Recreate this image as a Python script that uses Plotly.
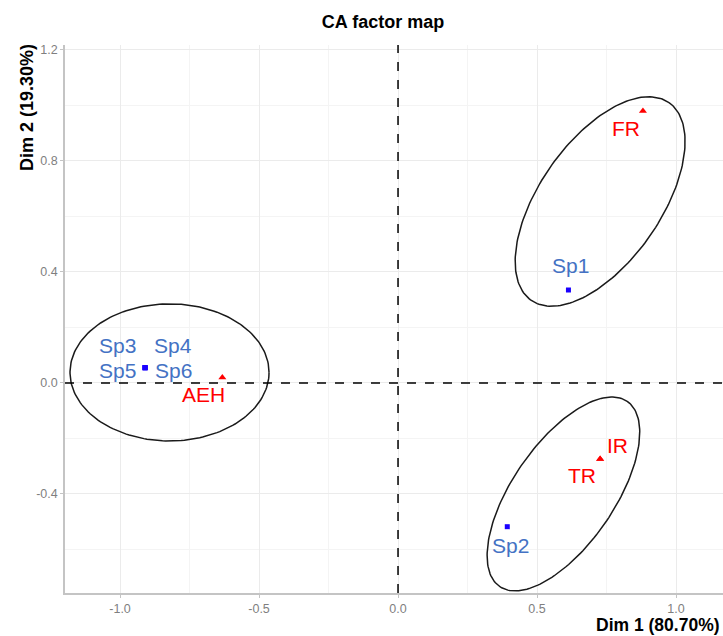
import numpy as np
import plotly.graph_objects as go

# ---------------- data ----------------
row_names = ["FR", "IR", "TR", "AEH"]
row_x = [0.881, 0.727, 0.727, -0.632]
row_y = [0.980, -0.274, -0.274, 0.020]

col_names = ["Sp1", "Sp2", "Sp3", "Sp4", "Sp5", "Sp6"]
col_x = [0.613, 0.393, -0.910, -0.910, -0.910, -0.910]
col_y = [0.335, -0.518, 0.055, 0.055, 0.055, 0.055]

# confidence ellipses: centre x, centre y, semi-axis a, semi-axis b, angle (deg)
ell_cx = [-0.822, 0.727, 0.595]
ell_cy = [0.038, 0.654, -0.400]
ell_a = [0.358, 0.434, 0.405]
ell_b = [0.247, 0.218, 0.183]
ell_ang = [0.0, 55.2, 55.5]

x_tick_vals = [-1.0, -0.5, 0.0, 0.5, 1.0]
x_tick_text = ["-1.0", "-0.5", "0.0", "0.5", "1.0"]
x_minor_vals = [-0.75, -0.25, 0.25, 0.75]
y_tick_vals = [-0.4, 0.0, 0.4, 0.8, 1.2]
y_tick_text = ["-0.4", "0.0", "0.4", "0.8", "1.2"]
y_minor_vals = [-0.6, -0.2, 0.2, 0.6, 1.0]

title_text = "CA factor map"
x_title = "Dim 1 (80.70%)"
y_title = "Dim 2 (19.30%)"

# label offsets in pixels (repel-like placement)
row_label_shift = {"FR": (-17, -17), "IR": (17, 13), "TR": (-18, -17), "AEH": (-19, -17)}
col_label_shift = {"Sp1": (2, 25), "Sp2": (3, -19), "Sp3": (-28, 22), "Sp4": (28, 22),
                   "Sp5": (-28, -3), "Sp6": (28, -3)}

FONT = "Liberation Sans, Arial, sans-serif"
RED = "#ff0000"
BLUE_TXT = "#4472c4"
BLUE_PT = "#1a00ff"

fig = go.Figure()

# ellipses
t = np.linspace(0, 2 * np.pi, 200)
for cx, cy, a, b, ang in zip(ell_cx, ell_cy, ell_a, ell_b, ell_ang):
    th = np.deg2rad(ang)
    ex = cx + a * np.cos(t) * np.cos(th) - b * np.sin(t) * np.sin(th)
    ey = cy + a * np.cos(t) * np.sin(th) + b * np.sin(t) * np.cos(th)
    fig.add_trace(go.Scatter(x=ex, y=ey, mode="lines",
                             line=dict(color="#1a1a1a", width=1.5),
                             hoverinfo="skip", showlegend=False))

fig.add_trace(go.Scatter(x=col_x, y=col_y, mode="markers",
                         marker=dict(symbol="square", size=5, color=BLUE_PT),
                         text=col_names, showlegend=False))
fig.add_trace(go.Scatter(x=row_x, y=row_y, mode="markers",
                         marker=dict(symbol="triangle-up", size=7, color=RED),
                         text=row_names, showlegend=False))

annotations = []
for n, x, y in zip(row_names, row_x, row_y):
    dx, dy = row_label_shift[n]
    annotations.append(dict(x=x, y=y, text=n, showarrow=False, xshift=dx, yshift=dy,
                            xanchor="center", yanchor="middle",
                            font=dict(family=FONT, size=21, color=RED)))
for n, x, y in zip(col_names, col_x, col_y):
    dx, dy = col_label_shift[n]
    annotations.append(dict(x=x, y=y, text=n, showarrow=False, xshift=dx, yshift=dy,
                            xanchor="center", yanchor="middle",
                            font=dict(family=FONT, size=21, color=BLUE_TXT)))

annotations.append(dict(text="<b>" + x_title + "</b>", xref="paper", yref="paper",
                        x=1, y=-0.0785, xanchor="right", yanchor="bottom", showarrow=False,
                        xshift=-2, borderpad=0, font=dict(family=FONT, size=17.5, color="#000000")))
annotations.append(dict(text="<b>" + y_title + "</b>", xref="paper", yref="paper",
                        x=-0.058, y=1.006, xanchor="center", yanchor="top", showarrow=False,
                        textangle=-90, font=dict(family=FONT, size=18, color="#000000")))

fig.add_hline(y=0, line=dict(color="#000000", width=1.5, dash="dash"))
fig.add_vline(x=0, line=dict(color="#000000", width=1.5, dash="dash"))

axis_common = dict(showgrid=True, gridcolor="#ebebeb", gridwidth=1, zeroline=False,
                   showline=True, linecolor="#c4c4c4", linewidth=1.5, automargin=False,
                   ticks="outside", ticklen=3, tickcolor="#c4c4c4",
                   tickfont=dict(family=FONT, size=12.5, color="#7f7f7f"))

fig.update_layout(
    width=723, height=636,
    margin=dict(l=65, r=0, t=45, b=43, autoexpand=False),
    paper_bgcolor="white", plot_bgcolor="white",
    title=dict(text="<b>" + title_text + "</b>", x=383 / 723, xref="container", xanchor="center",
               y=1 - 22 / 636, yref="container", yanchor="middle",
               font=dict(family=FONT, size=18, color="#000000")),
    xaxis=dict(range=[-1.198, 1.169], tickmode="array", tickvals=x_tick_vals, ticktext=x_tick_text,
               minor=dict(tickmode="array", tickvals=x_minor_vals, showgrid=True,
                          gridcolor="#f4f4f4", ticks=""), **axis_common),
    yaxis=dict(range=[-0.757, 1.218], tickmode="array", tickvals=y_tick_vals, ticktext=y_tick_text,
               minor=dict(tickmode="array", tickvals=y_minor_vals, showgrid=True,
                          gridcolor="#f4f4f4", ticks=""), **axis_common),
    annotations=annotations,
    showlegend=False,
)

fig.write_html("out.html", config={"displayModeBar": False},
               post_script="document.body.style.margin='0px';document.body.style.overflow='hidden';")
